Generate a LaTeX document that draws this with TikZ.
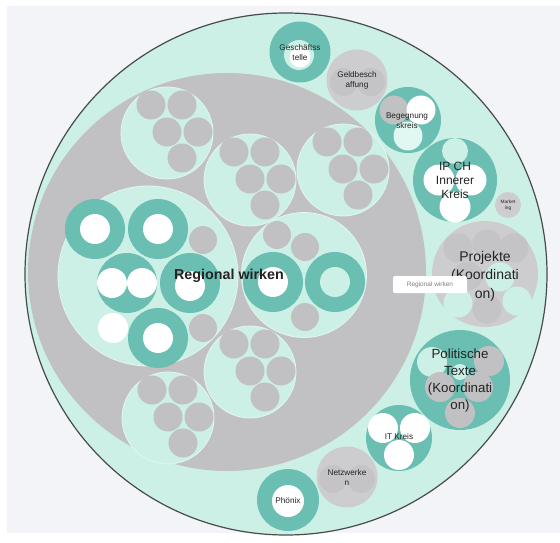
\documentclass[tikz,border=0pt]{standalone}
\usepackage{fontspec}
\setmainfont{Liberation Sans}
\usepackage{xcolor}
\usepackage{tikz}

\definecolor{pagegrey}{RGB}{243,244,247}
\definecolor{mint}{RGB}{205,240,230}
\definecolor{mintedge}{RGB}{225,247,241}
\definecolor{stone}{RGB}{193,193,195}
\definecolor{pale}{RGB}{205,205,207}
\definecolor{paledot}{RGB}{196,196,198}
\definecolor{tealring}{RGB}{106,190,178}
\definecolor{rim}{RGB}{70,76,76}
\definecolor{ink}{RGB}{35,35,35}

\begin{document}
\begin{tikzpicture}[x=1pt, y=-1pt,
    bubble/.style={circle, inner sep=0pt, draw=none},
    pod/.style={bubble, fill=mint, draw=mintedge, line width=0.8pt, minimum size=92pt},
    dot/.style={bubble, fill=stone, minimum size=29pt},
    ring/.style={bubble, fill=tealring, minimum size=60pt},
    hole/.style={bubble, fill=white, minimum size=30pt},
    tag/.style={align=center, text=ink, inner sep=0pt, font=\fontsize{8.2}{10}\selectfont},
    bigtag/.style={align=center, text=ink, inner sep=0pt, font=\fontsize{14}{18.5}\selectfont}]

    \useasboundingbox (0,0) rectangle (560,543);
    \fill[white] (0,0) rectangle (560,543);
    \fill[pagegrey] (7,6) rectangle (560,533);

    % outer circle and Regional wirken
    \node[bubble, fill=mint, draw=rim, line width=1.2pt, minimum size=522pt] (whole) at (286,274) {};
    \node[bubble, fill=stone, minimum size=398pt] (regional) at (227,272) {};

    % groups of five
    \foreach \n/\cx/\cy in {a/167/133, b/250/180, c/343/170, d/250/372, e/168/418} {
        \node[pod] (pod-\n) at (\cx,\cy) {};
        \foreach \k/\dx/\dy in {1/-16/-28, 2/15/-28, 3/0/-1, 4/31/-1, 5/15/25}
            \node[dot] (pod-\n-\k) at ({\cx+\dx},{\cy+\dy}) {};
    }

    % left group with rings
    \node[pod, minimum size=180pt] (west) at (148,276) {};
    \node[ring] (west-1) at (95,229) {};
    \node[hole] (west-1h) at (95,229) {};
    \node[ring] (west-2) at (158,229) {};
    \node[hole] (west-2h) at (158,229) {};
    \node[dot, minimum size=28pt] (west-3) at (203,240) {};
    \node[ring] (west-4) at (127,283) {};
    \node[hole] (west-4a) at (112,283) {};
    \node[hole] (west-4b) at (142,283) {};
    \node[ring] (west-5) at (190,283) {};
    \node[hole] (west-5h) at (190,286) {};
    \node[hole] (west-6) at (113,328) {};
    \node[ring] (west-7) at (158,338) {};
    \node[hole] (west-7h) at (158,338) {};
    \node[dot, minimum size=28pt] (west-8) at (203,328) {};

    % right group with rings
    \node[pod, minimum size=125pt] (east) at (304,275) {};
    \node[dot, minimum size=28pt] (east-1) at (277,235) {};
    \node[dot, minimum size=28pt] (east-2) at (305,247) {};
    \node[ring] (east-3) at (273,282) {};
    \node[hole] (east-3h) at (273,282) {};
    \node[ring] (east-4) at (335,282) {};
    \node[hole, fill=mint] (east-4h) at (335,282) {};
    \node[dot, minimum size=28pt] (east-5) at (305,317) {};

    % circles round the edge
    \node[ring, minimum size=61pt] (office) at (300,52) {};
    \node[hole, fill=mint] (office-a) at (299,55) {};
    \node[hole, minimum size=21pt] (office-b) at (300,57) {};

    \node[bubble, fill=pale, minimum size=61pt] (funds) at (357,80) {};
    \node[bubble, fill=paledot, minimum size=28pt] (funds-a) at (344,82) {};
    \node[bubble, fill=paledot, minimum size=28pt] (funds-b) at (371,82) {};

    \node[ring, minimum size=66pt] (meet) at (408,120) {};
    \node[dot] (meet-a) at (394,110) {};
    \node[hole, minimum size=29pt] (meet-b) at (421,110) {};
    \node[hole, fill=mintedge, minimum size=29pt] (meet-c) at (408,136) {};

    \node[ring, minimum size=84pt] (core) at (455,180) {};
    \node[bubble, fill=mint, minimum size=26pt] (core-a) at (455,151) {};
    \node[hole, minimum size=31pt] (core-b) at (439,180) {};
    \node[hole, minimum size=31pt] (core-c) at (471,180) {};
    \node[hole, minimum size=31pt] (core-d) at (455,207) {};

    \node[bubble, fill=pale, minimum size=26pt] (promo) at (508,205) {};

    \node[bubble, fill=pale, minimum size=106pt] (projects) at (485,274) {};
    \node[bubble, fill=paledot, minimum size=29pt] (projects-a) at (458,248) {};
    \node[bubble, fill=paledot, minimum size=29pt] (projects-b) at (487,244) {};
    \node[bubble, fill=paledot, minimum size=29pt] (projects-c) at (514,248) {};
    \node[bubble, fill=paledot, minimum size=29pt] (projects-d) at (468,276) {};
    \node[bubble, fill=mint, minimum size=29pt] (projects-e) at (500,277) {};
    \node[bubble, fill=mint, minimum size=29pt] (projects-f) at (458,303) {};
    \node[bubble, fill=paledot, minimum size=29pt] (projects-g) at (487,309) {};
    \node[bubble, fill=mint, minimum size=29pt] (projects-h) at (517,301) {};

    \node[ring, minimum size=100pt] (policy) at (460,380) {};
    \node[bubble, fill=mint, minimum size=30pt] (policy-a) at (432,362) {};
    \node[dot, minimum size=30pt] (policy-b) at (489,361) {};
    \node[bubble, fill=mint, minimum size=16pt] (policy-c) at (460,372) {};
    \node[dot, minimum size=30pt] (policy-d) at (440,387) {};
    \node[dot, minimum size=30pt] (policy-e) at (478,387) {};
    \node[dot, minimum size=30pt] (policy-f) at (460,413) {};

    \node[ring, minimum size=66pt] (itteam) at (399,438) {};
    \node[hole, minimum size=30pt] (itteam-a) at (383,428) {};
    \node[hole, minimum size=30pt] (itteam-b) at (415,428) {};
    \node[hole, minimum size=30pt] (itteam-c) at (399,455) {};

    \node[bubble, fill=pale, minimum size=61pt] (network) at (347,477) {};
    \node[bubble, fill=paledot, minimum size=28pt] (network-a) at (333,479) {};
    \node[bubble, fill=paledot, minimum size=28pt] (network-b) at (361,479) {};

    \node[ring, minimum size=62pt] (phoenix) at (288,500) {};
    \node[hole, minimum size=32pt] (phoenix-h) at (288,501) {};

    % labels
    \node[text=ink, font=\bfseries\fontsize{14.3}{16}\selectfont] (regional-l) at (229,276) {Regional wirken};
    \node[tag] (office-l) at (300,53) {Geschäftss\\telle};
    \node[tag] (funds-l) at (357,80) {Geldbesch\\affung};
    \node[tag] (meet-l) at (407,121) {Begegnung\\skreis};
    \node[bigtag, font=\fontsize{12}{14}\selectfont] (core-l) at (455,180) {IP CH\\Innerer\\Kreis};
    \node[tag, font=\fontsize{4.8}{6}\selectfont] (promo-l) at (508,205) {Market\\ing};
    \node[bigtag] (projects-l) at (485,276) {Projekte\\(Koordinati\\on)};
    \node[bigtag, font=\fontsize{13.3}{17}\selectfont] (policy-l) at (460,381) {Politische\\Texte\\(Koordinati\\on)};
    \node[tag] (itteam-l) at (399,437) {IT Kreis};
    \node[tag] (network-l) at (347,478) {Netzwerke\\n};
    \node[tag] (phoenix-l) at (288,501) {Phönix};

    % hover box
    \node[fill=white, rounded corners=2pt, minimum width=74pt, minimum height=17pt, inner sep=0pt,
          text=gray, font=\fontsize{6.5}{8}\selectfont] (hover) at (430,284.5) {Regional wirken};
\end{tikzpicture}
\end{document}
